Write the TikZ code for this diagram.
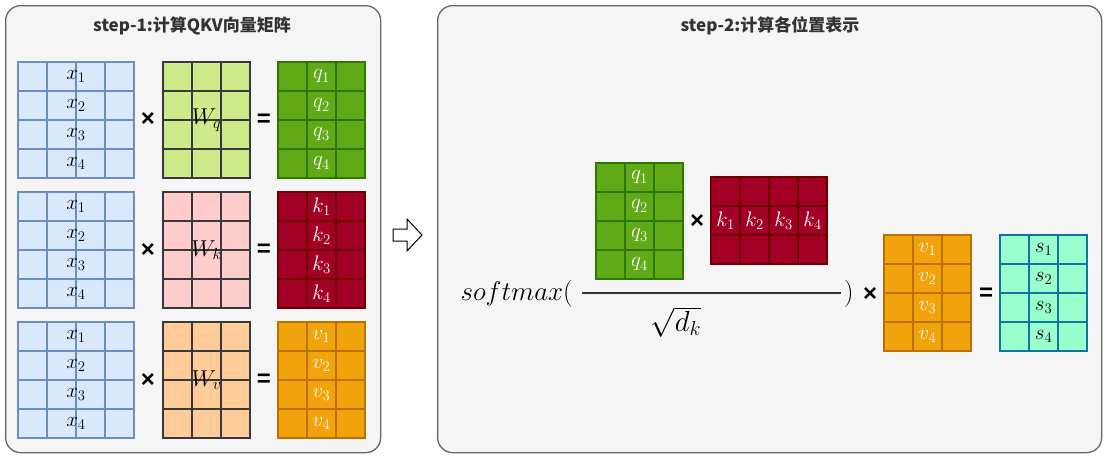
\RequirePackage{fix-cm}
\documentclass[tikz,border=0pt]{standalone}
\usepackage{fontspec}
\newfontfamily\cjk{Noto Sans CJK SC}
\newfontfamily\signfont{Liberation Sans}
\usetikzlibrary{positioning}

\definecolor{panelfill}{HTML}{F5F5F5}
\definecolor{panelline}{HTML}{666666}
\definecolor{titlecol}{HTML}{333333}
\definecolor{xfill}{HTML}{DAE8FC}
\definecolor{xline}{HTML}{6C8EBF}
\definecolor{wline}{HTML}{36393D}
\definecolor{wqfill}{HTML}{CDEB8B}
\definecolor{wkfill}{HTML}{FFCCCC}
\definecolor{wvfill}{HTML}{FFCC99}
\definecolor{qfill}{HTML}{60A917}
\definecolor{qline}{HTML}{2D7600}
\definecolor{kfill}{HTML}{A20025}
\definecolor{kline}{HTML}{6F0000}
\definecolor{vfill}{HTML}{F0A30A}
\definecolor{vline}{HTML}{BD7000}
\definecolor{sfill}{HTML}{99FFCC}
\definecolor{sline}{HTML}{10739E}

\newcommand{\cellmatrix}[6]{%
  \node (#1) [#2, anchor=north west, minimum width=#5*29pt, minimum height=#6*29pt] at (#3,#4) {};
  \pgfmathtruncatemacro{\lastcol}{#5-1}
  \pgfmathtruncatemacro{\lastrow}{#6-1}
  \foreach \c in {1,...,\lastcol}
    \draw [#2, fill=none] ([xshift=\c*29pt]#1.north west) -- ([xshift=\c*29pt]#1.south west);
  \foreach \r in {1,...,\lastrow}
    \draw [#2, fill=none] ([yshift=-\r*29pt]#1.north west) -- ([yshift=-\r*29pt]#1.north east);
}

\begin{document}
\begin{tikzpicture}
  [
    x=1pt, y=-1pt,
    panel/.style={draw=panelline, fill=panelfill, line width=1.3pt,
      rounded corners=15pt, anchor=north west, inner sep=0pt},
    title/.style={text=titlecol, font=\cjk\bfseries\fontsize{17}{20}\selectfont},
    gridcell/.style={line width=1.2pt, inner sep=0pt, outer sep=0pt},
    xmat/.style={gridcell, fill=xfill, draw=xline},
    wqmat/.style={gridcell, fill=wqfill, draw=wline},
    wkmat/.style={gridcell, fill=wkfill, draw=wline},
    wvmat/.style={gridcell, fill=wvfill, draw=wline},
    qmat/.style={gridcell, fill=qfill, draw=qline},
    kmat/.style={gridcell, fill=kfill, draw=kline},
    vmat/.style={gridcell, fill=vfill, draw=vline},
    smat/.style={gridcell, fill=sfill, draw=sline},
    lbl/.style={inner sep=0pt, font=\fontsize{21}{24}\selectfont},
    wlbl/.style={inner sep=0pt, font=\fontsize{23}{26}\selectfont},
    big/.style={inner sep=0pt, font=\fontsize{27}{31}\selectfont},
    op/.style={inner sep=0pt, font=\signfont\bfseries\fontsize{24}{26}\selectfont}
  ]
  \useasboundingbox (0,0) rectangle (1108,458);

  \node (left) [panel, minimum width=375pt, minimum height=447pt] at (5,5) {};
  \node (right) [panel, minimum width=664pt, minimum height=447pt] at (437,5) {};
  \node (t1) at (192,26) [title] {step-1:计算QKV向量矩阵};
  \node (t2) at (770,26) [title] {step-2:计算各位置表示};

  \cellmatrix{xa}{xmat}{18}{62}{4}{4}
  \cellmatrix{wq}{wqmat}{163}{62}{3}{4}
  \cellmatrix{qa}{qmat}{278}{62}{3}{4}
  \cellmatrix{xb}{xmat}{18}{192}{4}{4}
  \cellmatrix{wk}{wkmat}{163}{192}{3}{4}
  \cellmatrix{ka}{kmat}{278}{192}{3}{4}
  \cellmatrix{xc}{xmat}{18}{322}{4}{4}
  \cellmatrix{wv}{wvmat}{163}{322}{3}{4}
  \cellmatrix{va}{vmat}{278}{322}{3}{4}

  \foreach \i in {1,...,4} {
    \node (xa\i) at (76,{76.5+29*(\i-1)}) [lbl] {$x_\i$};
    \node (xb\i) at (76,{206.5+29*(\i-1)}) [lbl] {$x_\i$};
    \node (xc\i) at (76,{336.5+29*(\i-1)}) [lbl] {$x_\i$};
    \node (qa\i) at (321.5,{76.5+29*(\i-1)}) [lbl, text=white] {$q_\i$};
    \node (ka\i) at (321.5,{206.5+29*(\i-1)}) [lbl, text=white] {$k_\i$};
    \node (va\i) at (321.5,{336.5+29*(\i-1)}) [lbl, text=white] {$v_\i$};
  }
  \node (wql) at (206.5,120) [wlbl] {$W_q$};
  \node (wkl) at (206.5,250) [wlbl] {$W_k$};
  \node (wvl) at (206.5,380) [wlbl] {$W_v$};

  \node (m1) at (148,120) [op] {×};
  \node (m2) at (148,250) [op] {×};
  \node (m3) at (148,380) [op] {×};
  \node (e1) at (264,120) [op] {=};
  \node (e2) at (264,250) [op] {=};
  \node (e3) at (264,380) [op] {=};

  \draw [line width=1pt, fill=white, line join=miter]
    (393,229) -- (407,229) -- (407,219) -- (422,235) -- (407,251) -- (407,241) -- (393,241) -- cycle;

  \cellmatrix{qb}{qmat}{596}{163}{3}{4}
  \cellmatrix{kt}{kmat}{711}{177}{4}{3}
  \cellmatrix{vb}{vmat}{884}{235}{3}{4}
  \cellmatrix{sa}{smat}{1000}{235}{3}{4}

  \foreach \i in {1,...,4} {
    \node (qb\i) at (639.5,{177.5+29*(\i-1)}) [lbl, text=white] {$q_\i$};
    \node (kt\i) at ({725.5+29*(\i-1)},221) [lbl, text=white] {$k_\i$};
    \node (vb\i) at (927.5,{249.5+29*(\i-1)}) [lbl, text=white] {$v_\i$};
    \node (sa\i) at (1043.5,{249.5+29*(\i-1)}) [lbl] {$s_\i$};
  }
  \node (m4) at (697,222) [op] {×};
  \node (m5) at (870,294) [op] {×};
  \node (e4) at (986,294) [op] {=};

  \node (sm) [big, anchor=base east] at (573,300) {$softmax($};
  \node (rp) [big, anchor=base west] at (844,300) {$)$};
  \node (dk) at (676,322) [big, font=\fontsize{29}{33}\selectfont] {$\sqrt{d_k}$};
  \coordinate (fl) at (582,293);
  \coordinate (fr) at (841,293);
  \draw [line width=1.3pt, draw=titlecol] (fl) -- (fr);
\end{tikzpicture}
\end{document}
